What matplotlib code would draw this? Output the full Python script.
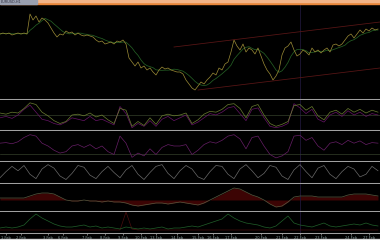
import numpy as np
import pandas as pd
import matplotlib
matplotlib.use("Agg")
import matplotlib.pyplot as plt
from matplotlib.patches import Rectangle

# price closes (one value every 3 bars on screen)
price = [66, 67, 66, 67, 65, 66, 67, 66, 67, 66,
         86, 80, 84, 78, 82, 80, 77, 72, 67, 63,
         66, 65, 69, 67, 68, 65, 67, 65, 64, 65,
         64, 63, 60, 58, 59, 56, 57, 58, 56, 59,
         58, 60, 56, 42, 38, 34, 38, 32, 34, 30,
         32, 28, 25, 30, 33, 31, 32, 30, 29, 28,
         28, 26, 20, 16, 12, 10, 14, 18, 16, 20,
         23, 27, 25, 32, 30, 36, 38, 48, 60, 54,
         50, 56, 48, 52, 50, 46, 52, 44, 36, 30,
         26, 20, 24, 30, 45, 52, 54, 58, 50, 44,
         46, 50, 48, 45, 52, 48, 50, 47, 50, 52,
         48, 55, 56, 54, 56, 60, 64, 66, 62, 66,
         70, 67, 71, 69, 72, 70, 71]

# trend channel (bar, price)
chan_upper_x = [58, 126.7]
chan_upper_y = [53, 78]
chan_lower_x = [66, 126.7]
chan_lower_y = [10, 32]
marker_bar = 100

# oscillators, one value every 6 pixels
osc_green = [57, 53, 60, 57, 73, 93, 87, 60, 47, 30, 20, 27, 50, 53, 47, 57,
             43, 50, 33, 20, 73, 67, 10, 27, 13, 40, 17, 47, 53, 47, 50, 57,
             20, 33, 53, 63, 60, 70, 87, 90, 73, 40, 80, 87, 50, 20, 10, 17,
             27, 83, 87, 67, 80, 47, 33, 60, 67, 53, 73, 60, 70, 57, 67, 60]
osc_purple = [40, 45, 38, 50, 70, 85, 60, 35, 30, 20, 15, 25, 40, 35, 30, 45,
              30, 35, 25, 15, 80, 55, 5, 20, 10, 30, 10, 35, 45, 30, 40, 50,
              15, 25, 40, 55, 50, 60, 75, 80, 55, 30, 70, 75, 40, 10, 5, 10,
              20, 90, 75, 55, 70, 35, 25, 50, 60, 45, 65, 50, 60, 45, 55, 50]
osc2 = [60, 62, 58, 65, 80, 90, 85, 60, 50, 35, 25, 30, 50, 55, 45, 55,
        40, 50, 30, 20, 85, 60, 10, 25, 15, 40, 20, 45, 55, 50, 50, 55,
        20, 35, 55, 65, 60, 70, 85, 90, 75, 40, 80, 85, 50, 20, 8, 15,
        30, 85, 88, 70, 80, 50, 35, 60, 65, 55, 70, 60, 68, 55, 62, 60]
stoch = [20, 55, 85, 60, 90, 40, 15, 70, 95, 75, 30, 10, 45, 90, 80, 35,
         15, 55, 85, 50, 20, 65, 90, 40, 10, 50, 85, 95, 45, 15, 60, 90,
         70, 25, 10, 55, 90, 85, 40, 15, 70, 95, 60, 20, 45, 90, 80, 30,
         10, 65, 95, 55, 20, 75, 90, 40, 15, 55, 85, 70, 25, 40, 85, 60]
macd = [2, 2, 2, 2, 2, 4, 6, 7, 7, 6, 3, 0, -1, -1, 0, -1,
        -1, -2, -1, -2, -2, -3, -5, -6, -5, -4, -3, -3, -4, -3, -2, -3,
        -4, -5, -3, 0, 3, 6, 9, 12, 11, 8, 5, 3, 0, -4, -7, -6,
        -2, 3, 4, 4, 4, 3, 3, 3, 3, 3, 5, 6, 6, 6, 5, 4]
volume_green = [5, 6, 5, 6, 8, 14, 19, 15, 12, 9, 7, 6, 6, 7, 8, 6,
                7, 5, 6, 5, 4, 6, 5, 4, 5, 4, 5, 6, 4, 5, 5, 6,
                7, 6, 8, 10, 12, 14, 19, 15, 12, 10, 9, 8, 6, 5, 7, 12,
                17, 10, 8, 7, 6, 8, 10, 7, 6, 7, 8, 9, 8, 10, 8, 7]
volume_red = [3, 3, 3, 3, 3, 3, 3, 3, 3, 3, 3, 3, 3, 3, 3, 3,
              3, 3, 3, 3, 3, 21, 4, 3, 3, 3, 3, 3, 3, 3, 3, 3,
              3, 3, 3, 3, 3, 3, 3, 3, 3, 3, 3, 3, 3, 3, 3, 3,
              3, 3, 3, 3, 3, 3, 3, 3, 3, 3, 3, 3, 3, 3, 3, 3]

tick_bars = [2, 7, 16, 21, 29, 35, 41, 47, 52, 59, 66, 71, 77, 87, 94, 100, 107, 117, 123]
tick_labels = ["1 Feb", "2 Feb", "3 Feb", "6 Feb", "7 Feb", "8 Feb", "9 Feb", "10 Feb",
               "13 Feb", "14 Feb", "15 Feb", "16 Feb", "17 Feb", "20 Feb", "21 Feb",
               "22 Feb", "23 Feb", "24 Feb", "27 Feb"]

W, H = 380, 240
XMAX = len(price) - 0.33
fig = plt.figure(figsize=(3.8, 2.4), dpi=100, facecolor="black")


def panel(top, bottom):
    ax = fig.add_axes([0, 1 - bottom / H, 1, (bottom - top) / H])
    ax.set_facecolor("black")
    for side in ["top", "left", "right"]:
        ax.spines[side].set_visible(False)
    ax.spines["bottom"].set_color("#a0a0a0")
    ax.spines["bottom"].set_linewidth(0.75)
    ax.set_xticks([])
    ax.set_yticks([])
    ax.set_xlim(0, XMAX)
    ax.axvline(marker_bar, color="#1e1638", lw=0.6)
    return ax


xs = np.arange(len(price))
xo = np.arange(len(osc_green)) * 2

# main price window
ax1 = panel(5, 99)
ma = pd.Series(price).rolling(6, min_periods=1).mean()
ax1.plot(xs, ma, color="#245e24", lw=0.55)
ax1.plot(xs, price, color="#9c8c36", lw=0.5)
ax1.plot(chan_upper_x, chan_upper_y, color="#5a1616", lw=0.55)
ax1.plot(chan_lower_x, chan_lower_y, color="#5a1616", lw=0.55)
ax1.set_ylim(1, 95)

ax2 = panel(100, 130)
ax2.axhline(50, color="#34402a", lw=0.5)
ax2.plot(xo, osc_purple, color="#661466", lw=0.5)
ax2.plot(xo, osc_green, color="#6a7c30", lw=0.5)
ax2.set_ylim(-3, 103)

ax3 = panel(131, 161)
ax3.axhline(20, color="#34402a", lw=0.5)
ax3.plot(xo, osc2, color="#661e66", lw=0.5)
ax3.set_ylim(-3, 103)

ax4 = panel(162, 183)
ax4.plot(xo, stoch, color="#6a6a6a", lw=0.5)
ax4.set_ylim(-10, 110)

ax5 = panel(184, 211)
ax5.fill_between(xo, macd, 0, color="#3c0404", lw=0)
ax5.plot(xo, macd, color="#565a40", lw=0.5)
ax5.set_ylim(-11, 16)

ax6 = panel(212, 233)
ax6.plot(xo, volume_red, color="#4a0e0e", lw=0.5)
ax6.plot(xo, volume_green, color="#20602a", lw=0.5)
ax6.set_ylim(0, 21)
ax6.set_xticks(tick_bars)
ax6.set_xticklabels(tick_labels, fontsize=2.6, color="#8a9e9e")
ax6.tick_params(axis="x", length=1.5, width=0.5, color="#a0a0a0", pad=0.5)

# title bar and bottom edge
fig.patches.append(Rectangle((0, 1 - 4 / H), 1, 4 / H, transform=fig.transFigure,
                             color="#e8863a", zorder=0))
fig.patches.append(Rectangle((0, 1 - 2 / H), 1, 2 / H, transform=fig.transFigure,
                             color="#f2b488", zorder=0))
fig.patches.append(Rectangle((0, 1 - 4 / H), 37 / W, 4 / H, transform=fig.transFigure,
                             color="#9aa0b0", zorder=1))
fig.text(1 / W, 1 - 2 / H, "EURUSD,H1", fontsize=2.5, color="#303040", va="center")
fig.patches.append(Rectangle((0, 0), 1, 1.5 / H, transform=fig.transFigure,
                             color="#d8d8d8", zorder=0))

fig.savefig("out.png", dpi=100, facecolor="black")
